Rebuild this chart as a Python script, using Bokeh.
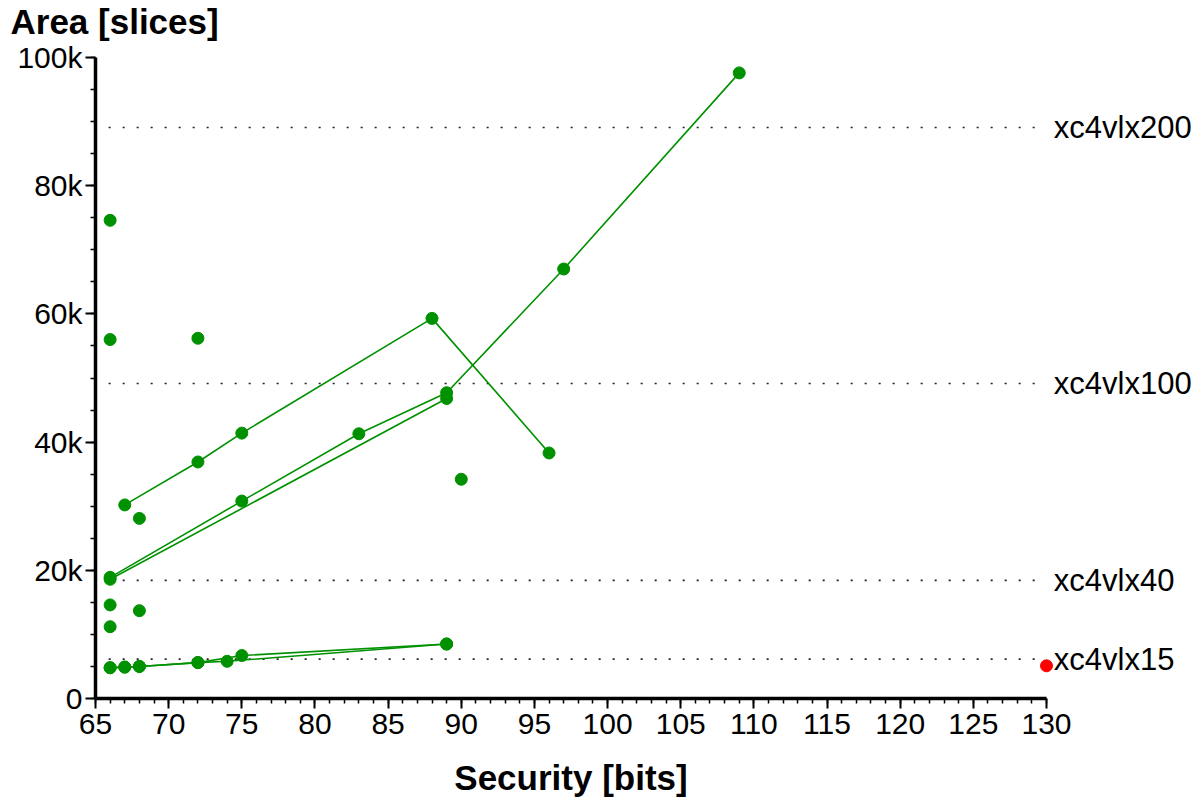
from bokeh.plotting import figure
from bokeh.models import FixedTicker, Range1d
from bokeh.core.properties import value
from bokeh.embed import file_html
from bokeh.resources import INLINE

# ---------------- data ----------------
device_names = ["xc4vlx15", "xc4vlx40", "xc4vlx100", "xc4vlx200"]
device_slices = [6144, 18432, 49152, 89088]

single_x = [66, 66, 72, 68, 66, 68, 66, 90]
single_y = [74600, 56000, 56200, 28100, 14600, 13700, 11200, 34200]

series_a_x = [67, 72, 75, 88, 96]
series_a_y = [30200, 36900, 41400, 59300, 38300]

series_b_x = [66, 75, 83, 89, 97, 109]
series_b_y = [18900, 30800, 41300, 47700, 67000, 97600]

series_c_x = [66, 89]
series_c_y = [18600, 46800]

series_d_x = [66, 67, 68, 72, 74, 89]
series_d_y = [4800, 4900, 5000, 5600, 5800, 8500]

series_e_x = [66, 67, 68, 72, 75, 89]
series_e_y = [4800, 4900, 5000, 5600, 6700, 8500]

highlight_x = [130]
highlight_y = [5100]

x_ticks = list(range(65, 131, 5))
x_minor = list(range(65, 131, 1))
y_ticks = [0, 20000, 40000, 60000, 80000, 100000]
y_tick_labels = ["0", "20k", "40k", "60k", "80k", "100k"]
y_minor = list(range(0, 100001, 5000))

x_title = "Security [bits]"
y_title = "Area [slices]"

# ---------------- layout / style ----------------
FONT = "Liberation Sans"
GREEN = "#009100"
W, H = 1200, 800
X0, X1 = 65, 130          # axis extent
Y0, Y1 = 0, 100000
ax_left, ax_right = 95, 1046   # pixel positions of the axis ends
ax_top, ax_bottom = 57, 698
sx = (ax_right - ax_left) / (X1 - X0)
sy = (ax_bottom - ax_top) / (Y1 - Y0)
x_range = Range1d(X0 - ax_left / sx, X0 + (W - ax_left) / sx)
y_range = Range1d(Y0 - (H - ax_bottom) / sy, Y1 + ax_top / sy)

ref_x0, ref_x1 = 65.9, 129.3
label_x = 130.5
ytitle_x = X0 - 85 / sx
ytitle_y = Y1 + 36 / sy
xtitle_x = (X0 + X1) / 2
xtitle_y = Y0 - 79 / sy

p = figure(width=W, height=H, x_range=x_range, y_range=y_range,
           output_backend="svg", toolbar_location=None, title=None,
           min_border=0, min_border_left=0, min_border_right=0,
           min_border_top=0, min_border_bottom=0)
p.outline_line_color = None
p.grid.visible = False
p.background_fill_color = "white"
p.border_fill_color = "white"

# axes (placed inside the frame at fixed data locations)
for ax in (p.xaxis[0], p.yaxis[0]):
    ax.axis_line_width = 3.5
    ax.axis_line_color = "black"
    ax.major_tick_out = 10
    ax.major_tick_in = 0
    ax.minor_tick_out = 5
    ax.minor_tick_in = 0
    ax.major_tick_line_width = 2
    ax.minor_tick_line_width = 1.5
    ax.major_tick_line_color = "black"
    ax.minor_tick_line_color = "black"
    ax.major_label_text_font = FONT
    ax.major_label_text_font_size = "30px"
    ax.major_label_text_color = "black"

p.xaxis[0].ticker = FixedTicker(ticks=x_ticks, minor_ticks=x_minor)
p.xaxis[0].bounds = (X0, X1)
p.xaxis[0].fixed_location = Y0
p.xaxis[0].major_label_standoff = 5

p.yaxis[0].ticker = FixedTicker(ticks=y_ticks, minor_ticks=y_minor)
p.yaxis[0].bounds = (Y0, Y1)
p.yaxis[0].fixed_location = X0
p.yaxis[0].major_label_standoff = 3
p.yaxis[0].major_label_overrides = {t: l for t, l in zip(y_ticks, y_tick_labels)}

# reference device capacity lines
p.segment(x0=[ref_x0] * len(device_slices), x1=[ref_x1] * len(device_slices),
          y0=device_slices, y1=device_slices,
          line_color="#222222", line_width=1.6, line_dash="2 12")
p.text(x=[label_x] * len(device_names), y=device_slices, text=device_names,
       text_font=value(FONT), text_font_size="31px", text_color="black",
       text_baseline="middle", text_align="left")

# series
for xs, ys in [(series_a_x, series_a_y), (series_b_x, series_b_y),
               (series_c_x, series_c_y), (series_d_x, series_d_y),
               (series_e_x, series_e_y)]:
    p.line(xs, ys, line_color=GREEN, line_width=1.6)
    p.scatter(xs, ys, size=12, fill_color=GREEN, line_color=GREEN)

p.scatter(single_x, single_y, size=12, fill_color=GREEN, line_color=GREEN)
p.scatter(highlight_x, highlight_y, size=12, fill_color="#ff0000", line_color="#ff0000")

# axis titles
p.text(x=[ytitle_x], y=[ytitle_y], text=[y_title], text_font=value(FONT),
       text_font_size="35px", text_font_style="bold", text_color="black",
       text_align="left", text_baseline="alphabetic")
p.text(x=[xtitle_x], y=[xtitle_y], text=[x_title], text_font=value(FONT),
       text_font_size="35px", text_font_style="bold", text_color="black",
       text_align="center", text_baseline="alphabetic")

open("out.html", "w").write(file_html(p, INLINE))
